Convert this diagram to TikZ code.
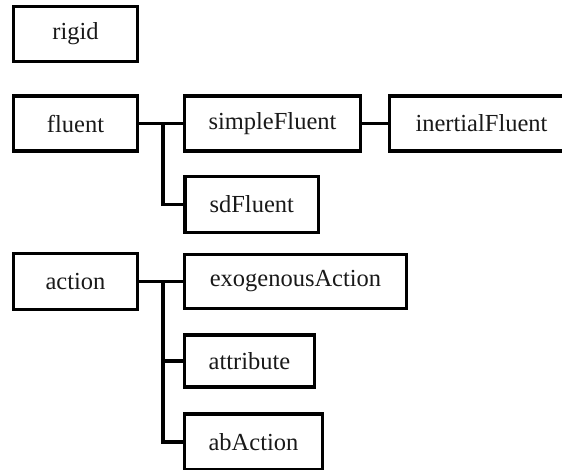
\documentclass[tikz,border=0pt]{standalone}
\usepackage{fontspec}
\setmainfont{Liberation Serif}
\begin{document}
\begin{tikzpicture}[x=1pt,y=-1pt,
  box/.style={draw=black,line width=3.5pt,line join=miter,inner sep=0pt,
    minimum height=55pt,font=\fontsize{24.5}{28}\selectfont,text=black!90},
  link/.style={draw=black,line width=3.5pt,line join=miter}]
\useasboundingbox (0,0) rectangle (562,469);
\begin{scope}
\clip (0,0) rectangle (562,469);
\node[box,minimum width=124pt] (rigid) at (75.5,34) {rigid};
\node[box,minimum width=124pt] (fluent) at (75.5,123.5) {fluent};
\node[box,minimum width=176pt] (simple) at (272.5,123.5) {simpleFluent};
\node[box,minimum width=184pt] (inertial) at (481.5,123.5) {inertialFluent};
\node[box,minimum width=133.5pt,minimum height=56pt] (sd) at (251.75,204.5) {sdFluent};
\node[box,minimum width=124pt,minimum height=56pt] (action) at (75.5,281.5) {action};
\node[box,minimum width=222pt,minimum height=54pt] (exo) at (295.5,281.5) {exogenousAction};
\node[box,minimum width=130pt,minimum height=52pt] (attr) at (249.5,361) {attribute};
\node[box,minimum width=138pt,minimum height=56pt] (ab) at (253.5,442) {abAction};
\coordinate (jf) at (163,123.5);
\coordinate (ja) at (163,281.5);
\draw[link] (fluent.east) -- (simple.west);
\draw[link] (jf) |- (sd.west);
\draw[link] (simple.east) -- (inertial.west);
\draw[link] (action.east) -- (exo.west);
\draw[link] (ja) |- (attr.west);
\draw[link] (ja) |- (ab.west);
\end{scope}
\end{tikzpicture}
\end{document}
